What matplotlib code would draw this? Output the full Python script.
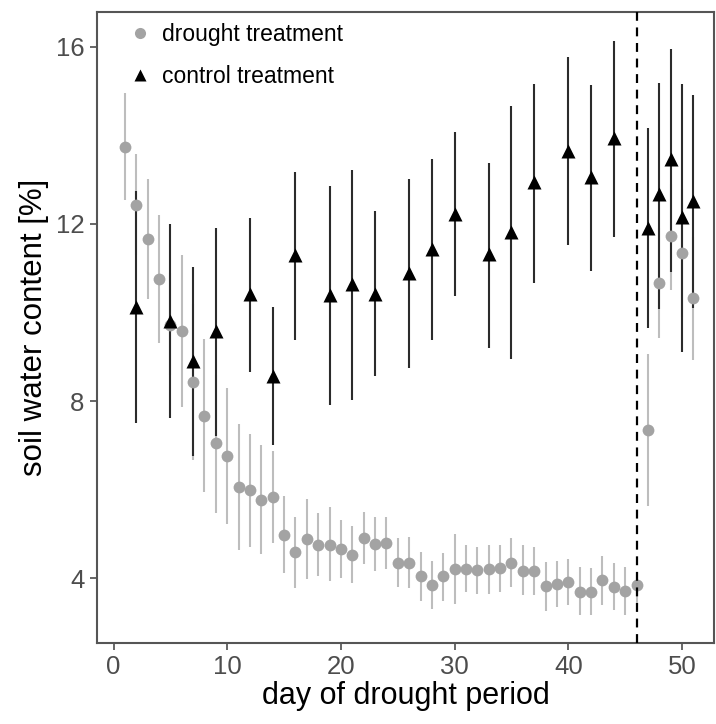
import matplotlib
matplotlib.use("Agg")
import matplotlib.pyplot as plt
import numpy as np
from matplotlib.lines import Line2D

plt.rcParams["font.family"] = ["Liberation Sans", "DejaVu Sans"]

# drought treatment: days 1-51 (all days measured)
drought_day = list(range(1, 52))
drought_mean = [13.74, 12.43, 11.66, 10.76, 9.72, 9.59, 8.44, 7.67, 7.06, 6.76,
                6.06, 5.99, 5.77, 5.84, 4.98, 4.59, 4.89, 4.75, 4.76, 4.66,
                4.53, 4.91, 4.77, 4.80, 4.35, 4.34, 4.04, 3.85, 4.04, 4.22,
                4.22, 4.18, 4.22, 4.23, 4.35, 4.17, 4.16, 3.82, 3.87, 3.92,
                3.70, 3.70, 3.96, 3.81, 3.71, 3.85,
                7.35, 10.67, 11.73, 11.34, 10.32]
drought_lo = [12.54, 11.30, 10.30, 9.32, 8.60, 7.87, 6.67, 5.94, 5.48, 5.23,
              4.64, 4.71, 4.54, 4.80, 4.11, 3.77, 3.99, 4.04, 3.94, 4.00,
              3.89, 4.32, 4.17, 4.22, 3.80, 3.77, 3.49, 3.30, 3.49, 3.41,
              3.70, 3.65, 3.65, 3.70, 3.81, 3.62, 3.62, 3.27, 3.36, 3.40,
              3.17, 3.17, 3.40, 3.28, 3.17, 3.40,
              5.64, 9.42, 10.52, 9.90, 8.93]
drought_hi = [14.95, 13.57, 13.01, 12.20, 10.90, 11.31, 10.20, 9.40, 8.60, 8.30,
              7.48, 7.26, 7.01, 6.88, 5.86, 5.39, 5.80, 5.47, 5.60, 5.32,
              5.17, 5.50, 5.38, 5.39, 4.90, 4.93, 4.60, 4.39, 4.58, 4.99,
              4.74, 4.70, 4.76, 4.74, 4.90, 4.75, 4.70, 4.36, 4.39, 4.43,
              4.26, 4.24, 4.50, 4.35, 4.26, 4.13,
              9.06, 11.90, 12.90, 12.80, 11.70]

# control treatment
control_day = [2, 5, 7, 9, 12, 14, 16, 19, 21, 23, 26, 28, 30, 33, 35, 37, 40, 42, 44,
               47, 48, 49, 50, 51]
control_mean = [10.13, 9.82, 8.91, 9.59, 10.42, 8.57, 11.30, 10.40, 10.64, 10.43,
                10.90, 11.43, 12.22, 11.32, 11.82, 12.95, 13.65, 13.07, 13.95,
                11.91, 12.67, 13.46, 12.15, 12.52]
control_lo = [7.51, 7.62, 6.77, 7.21, 8.66, 7.00, 9.38, 7.91, 8.02, 8.57,
              8.74, 9.38, 10.37, 9.21, 8.94, 10.67, 11.52, 10.94, 11.70,
              9.64, 10.09, 10.92, 9.12, 10.10]
control_hi = [12.74, 12.01, 11.03, 11.91, 12.14, 10.12, 13.18, 12.86, 13.22, 12.30,
              13.01, 13.46, 14.08, 13.38, 14.66, 15.17, 15.76, 15.14, 16.14,
              14.16, 15.19, 15.96, 15.16, 14.91]

rewet_day = 46

fig = plt.figure(figsize=(7.16, 7.24), dpi=100)
ax = fig.add_axes([0.1355, 0.112, 0.8615, 0.871])

ax.vlines(drought_day, drought_lo, drought_hi, color="#bdbdbd", lw=1.5, zorder=2)
ax.vlines(control_day, control_lo, control_hi, color="#2b2b2b", lw=1.5, zorder=3)
ax.plot(drought_day, drought_mean, "o", color="#a3a3a3", ms=8.5, mec="none", zorder=4)
ax.plot(control_day, control_mean, "^", color="black", ms=9.5, mec="none", zorder=5)
ax.axvline(rewet_day, color="black", lw=1.6, ls=(0, (4, 3)), zorder=6)

ax.set_xlim(-1.45, 52.8)
ax.set_ylim(2.54, 16.78)
ax.set_xticks([0, 10, 20, 30, 40, 50])
ax.set_yticks([4, 8, 12, 16])
ax.tick_params(labelsize=18.5, colors="#4d4d4d", length=5, width=1.2,
               labelcolor="#4d4d4d", pad=4)
for s in ax.spines.values():
    s.set_color("#555555")
    s.set_linewidth(1.5)
ax.set_xlabel("day of drought period", fontsize=22, labelpad=1)
ax.set_ylabel("soil water content [%]", fontsize=22.5, labelpad=5)

handles = [
    Line2D([], [], marker="o", ls="none", color="#a3a3a3", mec="none", ms=8),
    Line2D([], [], marker="^", ls="none", color="black", mec="none", ms=8),
]
ax.legend(handles, ["drought treatment", "control treatment"], loc="upper left",
          bbox_to_anchor=(0.009, 1.015), frameon=False, fontsize=16.5,
          handletextpad=0.2, labelspacing=0.8, handlelength=1.5)

fig.savefig("out.png", dpi=100)
